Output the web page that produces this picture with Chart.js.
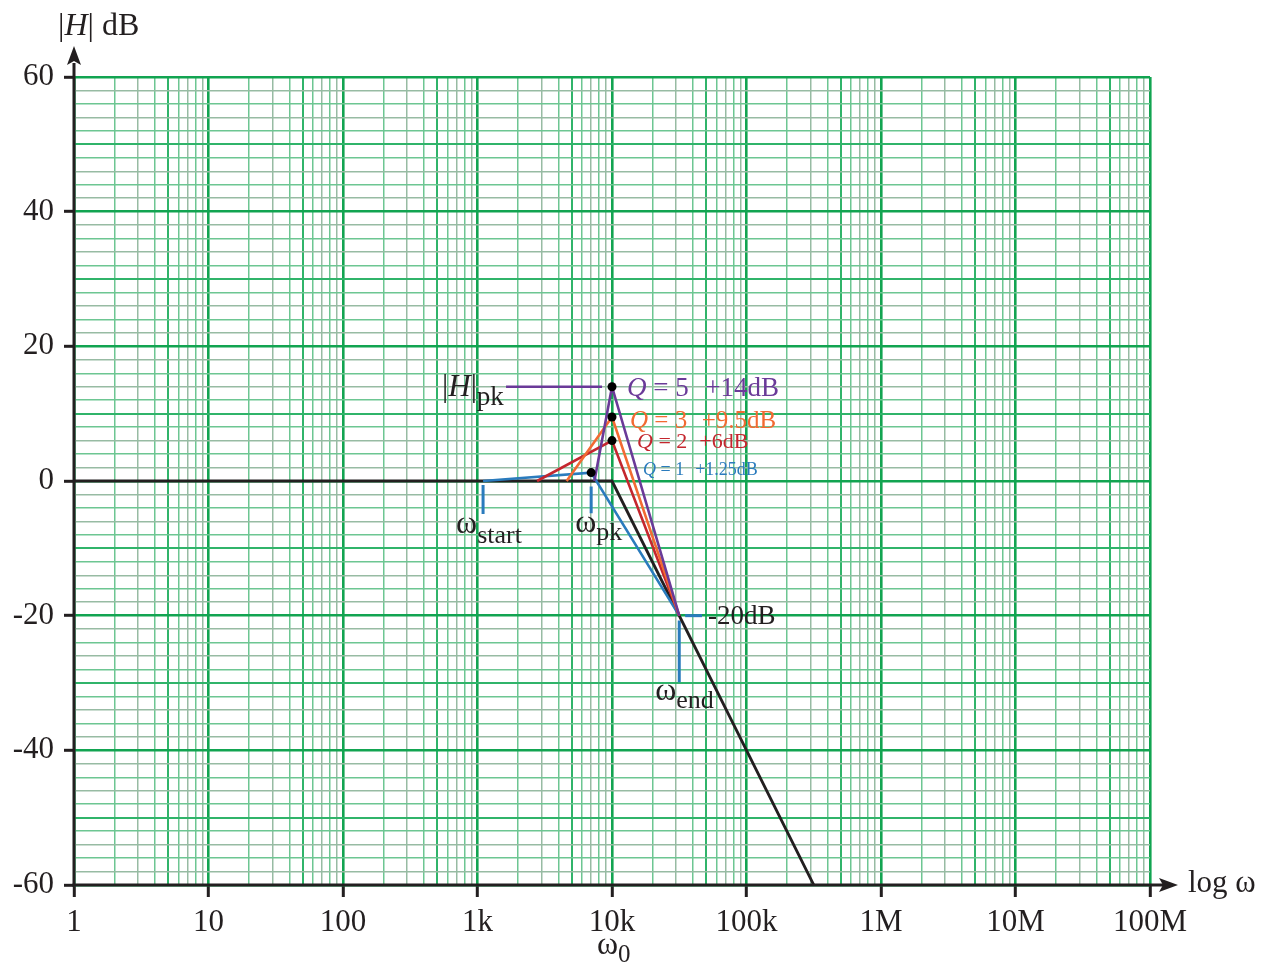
<!DOCTYPE html>
<html><head><meta charset="utf-8">
<script src="https://cdn.jsdelivr.net/npm/chart.js@4.4.0/dist/chart.umd.min.js"></script>
<style>html,body{margin:0;padding:0;background:#fff}#wrap{width:1270px;height:968px;position:relative}</style>
</head><body><div id="wrap"><canvas id="c" width="1270" height="968"></canvas></div>
<script>
// ---- data ----
const decadeValues = [1, 10, 100, 1e3, 1e4, 1e5, 1e6, 1e7, 1e8];
const decadeLabels = ['1', '10', '100', '1k', '10k', '100k', '1M', '10M', '100M'];
const yLabelValues = [-60, -40, -20, 0, 20, 40, 60];
const asymptoteX = [1, 1e4, 316228];   const asymptoteY = [0, 0, -60];
const q1X = [1100, 7000, 31623];       const q1Y = [0, 1.25, -20];
const q2X = [2770, 1e4, 31623];        const q2Y = [0, 6, -20];
const q3X = [4600, 1e4, 31623];        const q3Y = [0, 9.5, -20];
const q5X = [7400, 1e4, 31623];        const q5Y = [0, 14, -20];
const peakX = [7000, 1e4, 1e4, 1e4];   const peakY = [1.25, 6, 9.5, 14];
const hpkLineX = [1630, 8430];         const hpkLineY = [14, 14];
const startMarkX = [1100, 1100];       const startMarkY = [-0.6, -4.9];
const pkMarkX = [7000, 7000];          const pkMarkY = [-0.8, -4.8];
const endMarkX = [31623, 31623];       const endMarkY = [-20.7, -29.9];
const m20X = [35000, 46700];           const m20Y = [-20, -20];

const FONT = '"Liberation Serif", "Times New Roman", serif';
const pts = (xa, ya) => xa.map((x, i) => ({x, y: ya[i]}));

const MAJOR = '#12a451', MEDIUM = '#30b46a', MINOR_A = '#97bba3', MINOR_B = '#6dc692';
function mant(v){ const e = Math.floor(Math.log10(v) + 1e-9); return Math.round(v / Math.pow(10, e)); }
function xColor(v){ const m = mant(v); if (m === 1) return MAJOR; if (m === 5) return MEDIUM; return (m % 2) ? MINOR_A : MINOR_B; }
function xWidth(v){ const m = mant(v); if (m === 1) return 2.6; if (m === 5) return 2; return 1.5; }
function yColor(v){ if (v % 20 === 0) return MAJOR; if (v % 10 === 0) return MEDIUM; return (Math.abs(v/2) % 2) ? MINOR_A : MINOR_B; }
function yWidth(v){ if (v % 20 === 0) return 2.6; if (v % 10 === 0) return 2; return 1.5; }
function isDecade(v){ return mant(v) === 1; }

function line(xa, ya, color, width, order){
  return {type:'line', data: pts(xa, ya), borderColor: color, borderWidth: width, pointRadius: 0, fill: false, tension: 0, order, borderCapStyle:'butt'};
}
const BLUE = '#2a7bbd', RED = '#c4262e', ORANGE = '#f26a32', PURPLE = '#6a3a98';

function rich(ctx, x, y, parts){
  ctx.textAlign = 'left'; ctx.textBaseline = 'alphabetic';
  for (const p of parts){
    ctx.font = (p.i ? 'italic ' : '') + p.s + 'px ' + FONT;
    ctx.fillStyle = p.c;
    ctx.fillText(p.t, x, y + (p.dy || 0));
    x += ctx.measureText(p.t).width + (p.gap || 0);
  }
}

const annot = {
  id: 'annot',
  afterDraw(chart){
    const ctx = chart.ctx, ca = chart.chartArea, xs = chart.scales.x, ys = chart.scales.y;
    const K = '#231f20';
    ctx.save();
    // axes
    ctx.strokeStyle = K; ctx.fillStyle = K; ctx.lineWidth = 3;
    ctx.beginPath(); ctx.moveTo(ca.left, ca.bottom + 1.5); ctx.lineTo(ca.left, ca.top - 14); ctx.stroke();
    ctx.beginPath(); ctx.moveTo(ca.left, ca.top - 31); ctx.lineTo(ca.left - 7, ca.top - 12); ctx.lineTo(ca.left, ca.top - 16); ctx.lineTo(ca.left + 7, ca.top - 12); ctx.closePath(); ctx.fill();
    ctx.beginPath(); ctx.moveTo(ca.left - 1.5, ca.bottom); ctx.lineTo(ca.right + 14, ca.bottom); ctx.stroke();
    ctx.beginPath(); ctx.moveTo(ca.right + 28, ca.bottom); ctx.lineTo(ca.right + 9, ca.bottom - 7); ctx.lineTo(ca.right + 13, ca.bottom); ctx.lineTo(ca.right + 9, ca.bottom + 7); ctx.closePath(); ctx.fill();

    // axis titles
    rich(ctx, 58, 35, [{t:'|', s:32, c:K}, {t:'H', s:32, c:K, i:true}, {t:'| dB', s:32, c:K}]);
    rich(ctx, ca.right + 38, ca.bottom + 7, [{t:'log ω', s:31, c:K}]);

    const x10k = xs.getPixelForValue(1e4);
    // ω0
    rich(ctx, x10k - 15, 954, [{t:'ω', s:32, c:K}, {t:'0', s:25, c:K, dy:8}]);

    // Q labels
    const y14 = ys.getPixelForValue(14), y95 = ys.getPixelForValue(9.5), y6 = ys.getPixelForValue(6), y125 = ys.getPixelForValue(1.25);
    rich(ctx, x10k + 15, y14 + 9, [{t:'Q', s:27, c:PURPLE, i:true}, {t:' = 5  ', s:27, c:PURPLE, gap:3}, {t:'+14dB', s:27, c:PURPLE}]);
    rich(ctx, x10k + 18, y95 + 11, [{t:'Q', s:25, c:ORANGE, i:true}, {t:' = 3  ', s:25, c:ORANGE, gap:2}, {t:'+9.5dB', s:25, c:ORANGE}]);
    rich(ctx, x10k + 25, y6 + 7, [{t:'Q', s:22, c:RED, i:true}, {t:' = 2  ', s:22, c:RED, gap:1}, {t:'+6dB', s:22, c:RED}]);
    rich(ctx, x10k + 31, y125 + 2, [{t:'Q', s:18, c:BLUE, i:true}, {t:' = 1  ', s:18, c:BLUE, gap:2}, {t:'+1.25dB', s:18, c:BLUE}]);

    // |H|pk
    const xh = xs.getPixelForValue(hpkLineX[0]);
    rich(ctx, xh - 64, y14 + 9, [{t:'|', s:31, c:K}, {t:'H', s:31, c:K, i:true}, {t:'|', s:31, c:K}, {t:'pk', s:27, c:K, dy:9}]);

    // -20dB
    const y20 = ys.getPixelForValue(-20);
    rich(ctx, xs.getPixelForValue(m20X[1]) + 6, y20 + 8, [{t:'-20dB', s:27, c:K}]);

    // omegas
    const y0 = ys.getPixelForValue(0);
    rich(ctx, xs.getPixelForValue(startMarkX[0]) - 27, y0 + 52, [{t:'ω', s:32, c:K}, {t:'start', s:26, c:K, dy:10}]);
    rich(ctx, xs.getPixelForValue(pkMarkX[0]) - 16, y0 + 51, [{t:'ω', s:32, c:K}, {t:'pk', s:26, c:K, dy:8}]);
    rich(ctx, xs.getPixelForValue(endMarkX[0]) - 24, y20 + 84, [{t:'ω', s:32, c:K}, {t:'end', s:26, c:K, dy:8}]);
    ctx.restore();
  }
};

new Chart(document.getElementById('c'), {
  data: {
    datasets: [
      {type:'scatter', data: pts(peakX, peakY), pointRadius: 4.5, pointBackgroundColor: '#000', pointBorderWidth: 0, order: 0},
      line(q5X, q5Y, PURPLE, 2.6, 1),
      line(q3X, q3Y, ORANGE, 2.6, 2),
      line(q2X, q2Y, RED, 2.6, 3),
      line(q1X, q1Y, BLUE, 2.6, 4),
      line(hpkLineX, hpkLineY, PURPLE, 2.6, 5),
      line(asymptoteX, asymptoteY, '#231f20', 2.8, 6),
      line(startMarkX, startMarkY, BLUE, 3, 7),
      line(pkMarkX, pkMarkY, BLUE, 3, 7),
      line(endMarkX, endMarkY, BLUE, 3, 7),
      line(m20X, m20Y, BLUE, 3, 7)
    ]
  },
  options: {
    responsive: false, animation: false, devicePixelRatio: 1,
    layout: {padding: {top: 77, right: 120, left: 0, bottom: 0}},
    plugins: {legend: {display: false}, tooltip: {enabled: false}},
    scales: {
      x: {
        type: 'logarithmic', min: 1, max: 1e8,
        afterBuildTicks(s){ const t = []; for (let e = 0; e < 8; e++) for (let m = 1; m <= 9; m++) t.push({value: m * Math.pow(10, e)}); t.push({value: 1e8}); s.ticks = t; },
        afterFit(s){ s.height = 83; },
        ticks: {
          autoSkip: false, maxRotation: 0, minRotation: 0, padding: 7, color: '#231f20',
          font: {family: FONT, size: 31},
          callback(v){ const i = decadeValues.findIndex(d => Math.abs(d - v) / d < 1e-6); return i >= 0 ? decadeLabels[i] : ''; }
        },
        grid: {
          color: c => xColor(c.tick.value), lineWidth: c => xWidth(c.tick.value),
          tickColor: c => isDecade(c.tick.value) ? '#231f20' : 'rgba(0,0,0,0)', tickWidth: 3, tickLength: 12
        },
        border: {display: false}
      },
      y: {
        type: 'linear', min: -60, max: 60,
        afterBuildTicks(s){ const t = []; for (let v = -60; v <= 60; v += 2) t.push({value: v}); s.ticks = t; },
        afterFit(s){ s.width = 74; },
        ticks: {
          autoSkip: false, padding: 10, color: '#231f20',
          font: {family: FONT, size: 31},
          callback(v){ return yLabelValues.includes(v) ? String(v) : ''; }
        },
        grid: {
          color: c => yColor(c.tick.value), lineWidth: c => yWidth(c.tick.value),
          tickColor: c => yLabelValues.includes(c.tick.value) ? '#231f20' : 'rgba(0,0,0,0)', tickWidth: 3, tickLength: 10
        },
        border: {display: false}
      }
    }
  },
  plugins: [annot]
});
</script></body></html>
